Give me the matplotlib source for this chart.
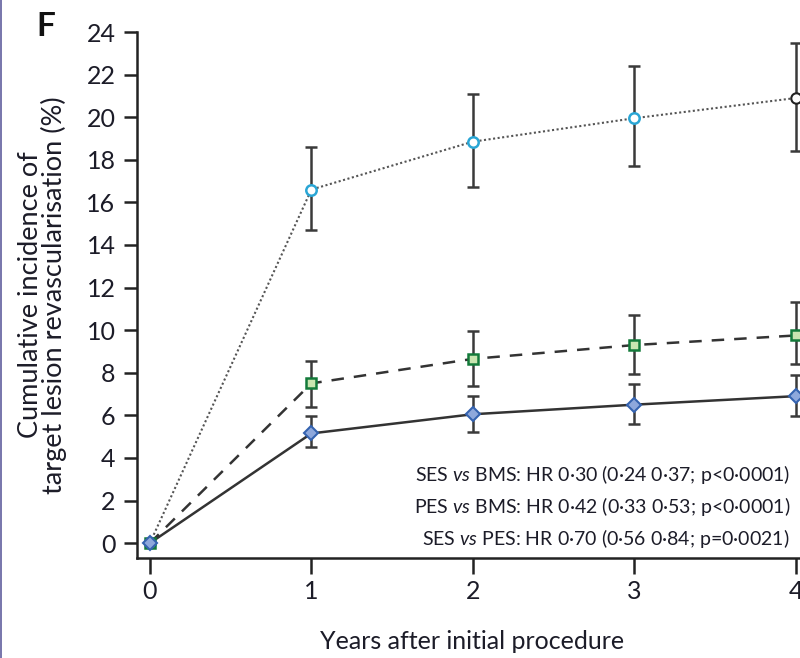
import matplotlib
matplotlib.use('Agg')
import matplotlib.pyplot as plt
from matplotlib.patches import Rectangle

plt.rcParams['font.family'] = ['Lato', 'DejaVu Sans']
plt.rcParams['mathtext.fontset'] = 'custom'
plt.rcParams['mathtext.rm'] = 'Lato'
plt.rcParams['mathtext.it'] = 'Lato:italic'

# Data (years after procedure, cumulative TLR %)
years = [0, 1, 2, 3, 4]

bms = [0, 16.6, 18.85, 19.95, 20.9]
bms_lo = [0, 14.7, 16.7, 17.7, 18.4]
bms_hi = [0, 18.6, 21.1, 22.4, 23.5]

pes = [0, 7.5, 8.65, 9.3, 9.75]
pes_lo = [0, 6.4, 7.4, 7.95, 8.4]
pes_hi = [0, 8.55, 9.95, 10.7, 11.3]

ses = [0, 5.15, 6.05, 6.5, 6.9]
ses_lo = [0, 4.5, 5.2, 5.6, 5.95]
ses_hi = [0, 5.95, 6.9, 7.45, 7.9]

y_ticks = list(range(0, 25, 2))
x_ticks = [0, 1, 2, 3, 4]

hr_lines = [
    r'SES $\mathit{vs}$ BMS: HR 0·30 (0·24 0·37; p<0·0001)',
    r'PES $\mathit{vs}$ BMS: HR 0·42 (0·33 0·53; p<0·0001)',
    r'SES $\mathit{vs}$ PES: HR 0·70 (0·56 0·84; p=0·0021)',
]

text_col = '#1c1c28'
line_col = '#333333'
err_col = '#3a3a3a'


def errs(vals, lo, hi):
    return [[v - l for v, l in zip(vals, lo)], [h - v for v, h in zip(vals, hi)]]


fig = plt.figure(figsize=(8, 6.58), dpi=100)
ax = fig.add_axes([137 / 800, 100 / 658, 670 / 800, 526 / 658])

# error bars (no bar at year 0)
for vals, lo, hi in [(bms, bms_lo, bms_hi), (pes, pes_lo, pes_hi), (ses, ses_lo, ses_hi)]:
    e = errs(vals, lo, hi)
    ax.errorbar(years[1:], vals[1:], yerr=[e[0][1:], e[1][1:]], fmt='none',
                ecolor=err_col, elinewidth=1.8, capsize=4, capthick=1.8, zorder=2)

# BMS: dotted line, cyan open circles (last one black)
ax.plot(years, bms, linestyle=(0, (1, 1.2)), color='#555555', lw=1.5, zorder=3)
ax.plot(years[:-1], bms[:-1], linestyle='none', marker='o', ms=7.5,
        mfc='white', mec='#2aa6d5', mew=1.8, zorder=4)
ax.plot(years[-1:], bms[-1:], linestyle='none', marker='o', ms=7.5,
        mfc='white', mec='#222222', mew=1.5, zorder=4)

# PES: dashed line, green squares
ax.plot(years, pes, linestyle=(0, (5, 4)), color=line_col, lw=1.8, zorder=3)
ax.plot(years, pes, linestyle='none', marker='s', ms=7.8,
        mfc='#c9e5b0', mec='#137a3a', mew=1.8, zorder=4)

# SES: solid line, blue diamonds
ax.plot(years, ses, linestyle='-', color=line_col, lw=1.8, zorder=3)
ax.plot(years, ses, linestyle='none', marker='D', ms=7.6,
        mfc='#8ea8dc', mec='#3563b0', mew=1.5, zorder=5)

ax.set_xlim(-0.08, 4.07)
ax.set_ylim(-0.7, 24)
ax.set_xticks(x_ticks)
ax.set_yticks(y_ticks)
ax.set_xticklabels([str(t) for t in x_ticks])
ax.set_yticklabels([str(t) for t in y_ticks])

for side in ['top', 'right']:
    ax.spines[side].set_visible(False)
for side in ['left', 'bottom']:
    ax.spines[side].set_linewidth(1.8)
    ax.spines[side].set_color('#222222')
ax.spines['left'].set_bounds(-0.7, 24)

ax.tick_params(axis='y', direction='out', length=9.5, width=1.8, color='#222222',
               labelsize=18, labelcolor=text_col, pad=6)
ax.tick_params(axis='x', direction='out', length=11.5, width=1.8, color='#222222',
               labelsize=18, labelcolor=text_col, pad=4)

ax.set_xlabel('Years after initial procedure', fontsize=18, color=text_col, labelpad=20)
ax.set_ylabel('Cumulative incidence of\ntarget lesion revascularisation (%)',
              fontsize=19.5, color=text_col, labelpad=14, linespacing=0.9)

# hazard ratio annotations
for i, s in enumerate(hr_lines):
    fig.text(790 / 800, 1 - (474 + 32 * i) / 658, s, ha='right', va='center',
             fontsize=14, color=text_col)

fig.text(36 / 800, 1 - 26 / 658, 'F', fontsize=24, fontweight='bold',
         color='#111111', ha='left', va='center')

# thin purple page border on the left edge
fig.patches.append(Rectangle((0, 0), 2 / 800, 1, transform=fig.transFigure,
                             color='#7a78ad', lw=0, zorder=10))

fig.savefig('out.png', dpi=100)
